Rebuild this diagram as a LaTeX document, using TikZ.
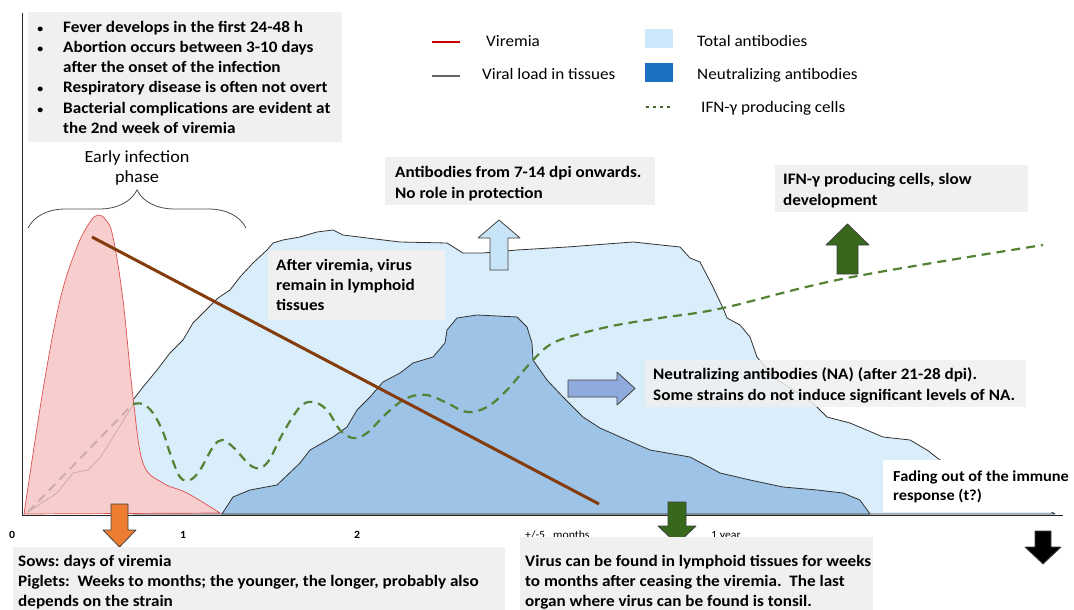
\documentclass[tikz,border=0pt]{standalone}
\usepackage{fontspec}
\setmainfont{Carlito}[FakeStretch=1.07]
\usepackage{tikz}
\usetikzlibrary{decorations.pathreplacing}
\frenchspacing

\definecolor{boxgray}{RGB}{240,240,240}
\definecolor{pinkfill}{RGB}{247,205,205}
\definecolor{pinkline}{RGB}{222,80,80}
\definecolor{tabblue}{RGB}{218,237,251}
\definecolor{tablegend}{RGB}{204,232,250}
\definecolor{nablue}{RGB}{157,195,230}
\definecolor{nalegend}{RGB}{30,112,195}
\definecolor{ifngreen}{RGB}{84,130,53}
\definecolor{darkgreen}{RGB}{56,104,28}
\definecolor{brownline}{RGB}{132,60,12}
\definecolor{arrorange}{RGB}{237,125,49}
\definecolor{arrblue}{RGB}{143,170,220}
\definecolor{arrlight}{RGB}{200,228,247}
\definecolor{fadegray}{RGB}{205,172,172}

\newcommand{\smallbullet}{\llap{{\fontsize{11}{11}\selectfont\textbullet}\hspace{20pt}}}

\tikzset{
  boxtext/.style={anchor=base west, align=left, inner sep=0pt, font=\fontsize{16}{20.3}\selectfont\bfseries},
  legtext/.style={anchor=base west, inner sep=0pt, font=\fontsize{16}{20}\selectfont},
  ticklabel/.style={anchor=base, inner sep=0pt, font=\fontsize{11}{12}\selectfont\bfseries},
  ticknote/.style={anchor=base west, inner sep=0pt, font=\fontsize{11}{12}\selectfont},
  blockarrow/.style={draw=black!75, line width=0.8pt, line join=round},
  outline/.style={draw=black!80, line width=0.8pt, line join=round},
}

\begin{document}
\begin{tikzpicture}[x=1pt, y=-1pt]
		\useasboundingbox (0,0) rectangle (1074,610);
		% total antibodies
		\filldraw[outline, fill=tabblue] (133,514) -- (133,400) -- (143,387) -- (157,370) -- (170,353) -- (183,340) -- (193,323) -- (203,313) -- (213,303) -- (218,298) -- (230,290) -- (240,277) -- (253,263) -- (267,250) -- (273,243) -- (283,240) -- (300,237) -- (317,232) -- (333,230) -- (343,235) -- (367,238) -- (400,242) -- (447,243) -- (463,253) -- (483,253) -- (517,250) -- (567,247) -- (633,242) -- (680,247) -- (690,258) -- (700,262) -- (713,287) -- (723,308) -- (727,318) -- (740,325) -- (750,337) -- (757,357) -- (773,377) -- (793,390) -- (813,403) -- (827,417) -- (850,423) -- (883,437) -- (910,440) -- (927,450) -- (940,460) -- (990,485) -- (1040,505) -- (1055,514) -- cycle;
		% neutralizing antibodies
		\filldraw[outline, fill=nablue] (222,514) -- (233,497) -- (250,490) -- (277,485) -- (300,463) -- (310,450) -- (333,437) -- (347,427) -- (357,410) -- (370,397) -- (383,382) -- (400,373) -- (413,363) -- (433,357) -- (445,343) -- (447,330) -- (457,318) -- (477,315) -- (517,317) -- (527,327) -- (532,343) -- (533,360) -- (547,380) -- (563,397) -- (583,417) -- (600,428) -- (627,440) -- (650,450) -- (690,457) -- (720,473) -- (750,480) -- (783,487) -- (817,490) -- (843,493) -- (860,500) -- (870,514) -- cycle;
		% viremia
		\filldraw[draw=pinkline, fill=pinkfill, line width=0.7pt] plot[smooth, tension=0.6] coordinates {(24,514) (43,390) (60,300) (77,247) (90,222) (98,215) (106,220) (113,237) (123,300) (133,397) (143,463) (163,483) (187,493) (220,513)} -- cycle;
		\draw[fadegray, line width=0.8pt] (28,512) -- (57,493) -- (73,473) -- (88,470) -- (100,458) -- (133,405);
		\draw[fadegray, line width=2pt, dash pattern=on 9pt off 6pt] (28,512) -- (133,404);
		% IFN-gamma
		\draw[ifngreen, line width=2.2pt, dash pattern=on 9pt off 6pt] plot[smooth, tension=0.6] coordinates {(133,404) (143,404) (153,413) (163,432) (170,453) (180,477) (190,480) (200,470) (213,447) (222,440) (233,447) (253,467) (267,463) (283,433) (300,407) (313,402) (327,410) (340,430) (353,438) (367,433) (387,413) (407,398) (427,395) (447,403) (467,412) (487,407) (507,390) (533,360) (553,343) (583,333) (617,325) (660,318) (723,308) (847,278) (1043,245)};
		% tissues
		\draw[brownline, line width=3pt] (92,237) -- (599,504);

		% axes
		\draw[black!85, line width=1pt] (22,13) -- (22,515) -- (1063,515);
		\node[ticklabel] (t0) at (12,538) {0};
		\node[ticklabel] (t1) at (183,538) {1};
		\node[ticklabel] (t2) at (357,538) {2};
		\node[ticknote] (t5m) at (525,538) {+/-5\hspace{8pt}months};
		\node[ticknote] (t1y) at (711,538) {1 year};

		% block arrows
		\filldraw[blockarrow, fill=arrorange] (111,504) -- (128,504) -- (128,530) -- (136,530) -- (119.5,547) -- (103,530) -- (111,530) -- cycle;
		\filldraw[blockarrow, fill=darkgreen] (668,502) -- (686,502) -- (686,526) -- (696,526) -- (677,544) -- (658,526) -- (668,526) -- cycle;
		\filldraw[blockarrow, fill=black] (1035,531) -- (1051,531) -- (1051,547) -- (1061,547) -- (1043,564) -- (1025,547) -- (1035,547) -- cycle;
		\filldraw[blockarrow, fill=arrlight] (490,270) -- (490,238) -- (478,238) -- (499,220) -- (520,238) -- (508,238) -- (508,270) -- cycle;
		\filldraw[blockarrow, fill=darkgreen] (837,274) -- (837,245) -- (826,245) -- (847.5,224) -- (869,245) -- (858,245) -- (858,274) -- cycle;
		\filldraw[blockarrow, fill=arrblue] (568,380) -- (617,380) -- (617,372) -- (635,388.5) -- (617,405) -- (617,397) -- (568,397) -- cycle;

		% notes (anchored at the baseline of their last line)
		\fill[boxgray] (28,12) rectangle (342,142);
		\node[boxtext] (fever) at (63,133.5) {\smallbullet Fever develops in the first 24-48 h\\
			\smallbullet Abortion occurs between 3-10 days\\
			after the onset of the infection\\
			\smallbullet Respiratory disease is often not overt\\
			\smallbullet Bacterial complications are evident at\\
			the 2nd week of viremia};
		\node[anchor=base, align=center, inner sep=0pt, font=\fontsize{17}{20}\selectfont] (early) at (137,182) {Early infection\\phase};
		\draw[black!70, line width=0.8pt, decorate, decoration={brace, amplitude=38pt}] (28,228) -- (246,228);

		\fill[boxgray] (385,157) rectangle (655,205);
		\node[boxtext] (abnote) at (395,198) {Antibodies from 7-14 dpi onwards.\\No role in protection};
		\fill[boxgray] (268,250) rectangle (445,320);
		\node[boxtext] (afternote) at (276,310.6) {After viremia, virus\\remain in lymphoid\\tissues};
		\fill[boxgray] (775,165) rectangle (1028,212);
		\node[boxtext] (ifnnote) at (783,205) {IFN-γ producing cells, slow\\development};
		\fill[boxgray, fill opacity=0.85] (645,360) rectangle (1026,407);
		\node[boxtext] (nanote) at (653,400) {Neutralizing antibodies (NA) (after 21-28 dpi).\\Some strains do not induce significant levels of NA.};
		\fill[white] (883,460) rectangle (1074,512);
		\node[boxtext, font=\fontsize{15.3}{18.5}\selectfont\bfseries] (fadenote) at (893,500) {Fading out of the immune\\response (t?)};
		\fill[boxgray] (13,547) rectangle (505,610);
		\node[boxtext, font=\fontsize{16}{20}\selectfont\bfseries] (sowsnote) at (18,606.5) {Sows: days of viremia\\Piglets:\ \ Weeks to months; the younger, the longer, probably also\\depends on the strain};
		\fill[boxgray] (520,537) rectangle (873,610);
		\node[boxtext, font=\fontsize{16}{20}\selectfont\bfseries] (virusnote) at (525,606) {Virus can be found in lymphoid tissues for weeks\\to months after ceasing the viremia.\ \ The last\\organ where virus can be found is tonsil.};

		% legend
		\draw[red!80!black, line width=2.5pt] (432,42) -- (460,42);
		\node[legtext] (legvir) at (486,47) {Viremia};
		\draw[black!60, line width=2.5pt] (432,76) -- (460,76);
		\node[legtext] (legtis) at (482,80) {Viral load in tissues};
		\fill[tablegend] (645,29) rectangle (673,48);
		\node[legtext] (legtot) at (697,47) {Total antibodies};
		\fill[nalegend] (645,63) rectangle (673,82);
		\node[legtext] (legna) at (697,80) {Neutralizing antibodies};
		\draw[ifngreen!80!black, line width=2.2pt, dash pattern=on 3pt off 4pt] (646,107) -- (671,107);
		\node[legtext] (legifn) at (701,113) {IFN-γ producing cells};
\end{tikzpicture}
\end{document}
